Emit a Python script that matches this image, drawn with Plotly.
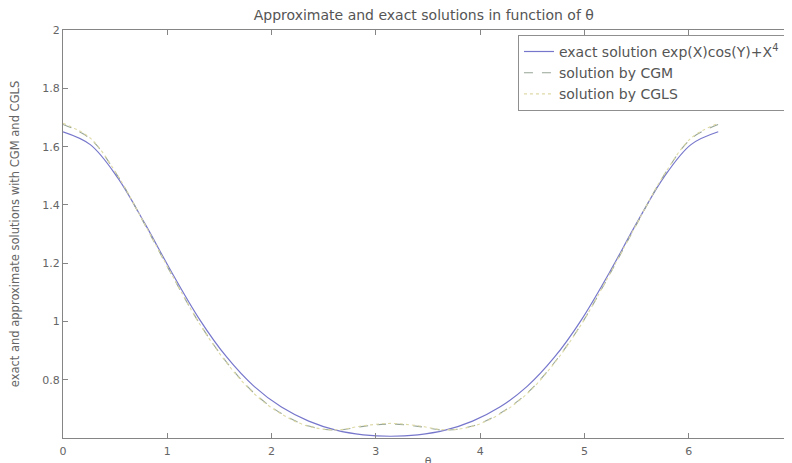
import plotly.graph_objects as go

theta = [0.0, 0.2618, 0.5236, 0.7854, 1.0472, 1.3090, 1.5708, 1.8326, 2.0944, 2.3562,
         2.6180, 2.8798, 3.1416, 3.4034, 3.6652, 3.9270, 4.1888, 4.4506, 4.7124, 4.9742,
         5.2360, 5.4978, 5.7596, 6.0214, 6.2832]

exact = [1.651, 1.607, 1.494, 1.336, 1.166, 1.008, 0.878, 0.778, 0.707, 0.659,
         0.628, 0.612, 0.607, 0.612, 0.628, 0.659, 0.707, 0.778, 0.878, 1.008,
         1.166, 1.336, 1.494, 1.607, 1.651]

cgm = [1.676, 1.627, 1.500, 1.332, 1.158, 0.994, 0.860, 0.755, 0.685, 0.642,
       0.628, 0.641, 0.649, 0.641, 0.628, 0.642, 0.685, 0.755, 0.860, 0.994,
       1.158, 1.332, 1.500, 1.627, 1.676]

cgls = [1.680, 1.629, 1.501, 1.333, 1.159, 0.993, 0.858, 0.753, 0.683, 0.641,
        0.629, 0.643, 0.651, 0.643, 0.629, 0.641, 0.683, 0.753, 0.858, 0.993,
        1.159, 1.333, 1.501, 1.629, 1.680]

names = ["exact solution exp(X)cos(Y)+X<sup>4</sup>", "solution by CGM", "solution by CGLS"]

FONT = "DejaVu Sans"

fig = go.Figure()
fig.add_trace(go.Scatter(x=theta, y=exact, mode="lines", name=names[0],
                         line=dict(color="#7676cc", width=1.2, shape="spline")))
fig.add_trace(go.Scatter(x=theta, y=cgm, mode="lines", name=names[1],
                         line=dict(color="#97a597", width=1.1, dash="dash", shape="spline")))
fig.add_trace(go.Scatter(x=theta, y=cgls, mode="lines", name=names[2],
                         line=dict(color="#dedaa6", width=1.1, dash="dot", shape="spline")))

axis_common = dict(showline=True, linecolor="#858585", linewidth=1, mirror="ticks",
                   ticks="inside", ticklen=5, tickcolor="#858585", showgrid=False,
                   zeroline=False, automargin=False,
                   tickfont=dict(family=FONT, size=11, color="#656565"))

fig.update_layout(
    width=792, height=463,
    margin=dict(l=55, r=7, t=22, b=33),
    paper_bgcolor="white", plot_bgcolor="white",
    title=dict(text="Approximate and exact solutions in function of θ", x=0.525, xanchor="center",
               y=1, yanchor="top", pad=dict(t=2, b=0),
               font=dict(family=FONT, size=14, color="#555555")),
    xaxis=dict(range=[0, 7], dtick=1, tick0=0, ticklabelstandoff=3,
               title=dict(text="θ", standoff=0, font=dict(family=FONT, size=11, color="#656565")),
               **axis_common),
    yaxis=dict(range=[0.601, 2], dtick=0.2, tick0=0,
               title=dict(text="exact and approximate solutions with CGM and CGLS", standoff=30,
                          font=dict(family=FONT, size=11.5, color="#656565")),
               **axis_common),
    legend=dict(x=0.989, xanchor="right", y=0.988, yanchor="top", bgcolor="white",
                bordercolor="#8f8f8f", borderwidth=1, tracegroupgap=0,
                font=dict(family=FONT, size=14, color="#555555")),
    showlegend=True,
)

fig.write_html("out.html")
